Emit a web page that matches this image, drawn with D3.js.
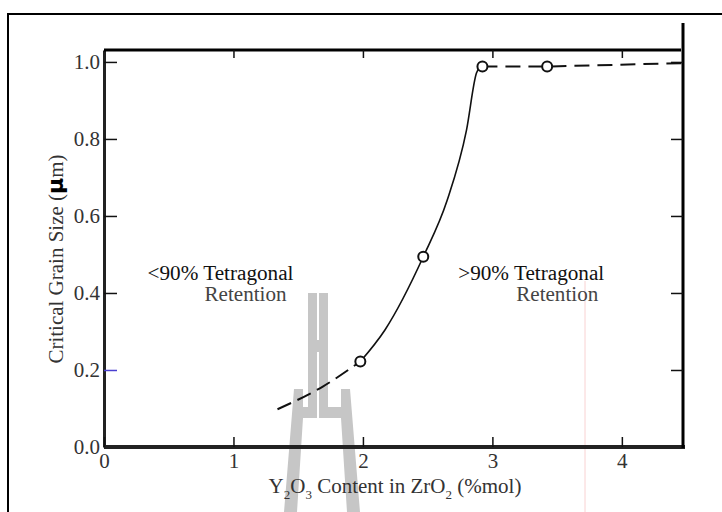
<!DOCTYPE html>
<html>
<head>
<meta charset="utf-8">
<script src="https://cdn.jsdelivr.net/npm/d3@7"></script>
<style>
	body { margin: 0; background: #fff; }
	svg { display: block; }
	text { font-family: "Liberation Serif", "Times New Roman", serif; }
</style>
</head>
<body>
<svg id="chart" width="722" height="512"></svg>
<script>
// values
const xTicks = [0, 1, 2, 3, 4];
const yTicks = [0.0, 0.2, 0.4, 0.6, 0.8, 1.0];
const measured = [[1.98, 0.222], [2.466, 0.494], [2.923, 0.988], [3.423, 0.988]];
const solidCurve = [[1.98, 0.222], [2.17, 0.304], [2.466, 0.494], [2.65, 0.64],
	[2.80, 0.823], [2.877, 0.971], [2.905, 0.988]];
const dashedLow = [[1.34, 0.098], [1.69, 0.157], [1.98, 0.222]];
const dashedHigh = [[2.923, 0.988], [3.423, 0.988], [4.48, 0.997]];
const regionLabels = [
	{x: 0.9, y: 0.434, line1: "<90% Tetragonal", line2: "Retention", dx2: 25},
	{x: 3.3, y: 0.434, line1: ">90% Tetragonal", line2: "Retention", dx2: 26}
];

const svg = d3.select("#chart"),
  W = 722, H = 512;

const x = d3.scaleLinear().domain([0, 4.48]).range([104, 684]);
const y = d3.scaleLinear().domain([0, 1.031]).range([447, 50]);

// outer frame
svg.append("path")
  .attr("d", "M8,512 V14 H722")
  .attr("fill", "none").attr("stroke", "#000").attr("stroke-width", 2);

// watermark (logo behind the plot)
const wm = svg.append("g").attr("fill", "#c6c6c6");
wm.append("path").attr("d", "M308,293 H317 V418 H308 Z M319,293 H328 V418 H319 Z M317,340 H319 V352 H317 Z");
wm.append("path").attr("d", "M294,389 H303 V407 H308 V418 H303 L297,512 H284 Z");
wm.append("path").attr("d", "M341,389 H350 L360,512 H347 L341,418 H328 V407 H341 Z");

// faint scan line
svg.append("line")
  .attr("x1", 585).attr("x2", 585).attr("y1", 281).attr("y2", 512)
  .attr("stroke", "#f9d2d2").attr("stroke-width", 1);

// axes
const axLeft = svg.append("g")
  .attr("transform", "translate(" + x(0) + ",0)")
  .call(d3.axisLeft(y).tickValues(yTicks).tickFormat(d3.format(".1f"))
	.tickSizeInner(-13).tickSizeOuter(0).tickPadding(4));
const axBottom = svg.append("g")
  .attr("transform", "translate(0," + y(0) + ")")
  .call(d3.axisBottom(x).tickValues(xTicks).tickFormat(d3.format("d"))
	.tickSizeInner(-10).tickSizeOuter(0).tickPadding(6));
const axTop = svg.append("g")
  .attr("transform", "translate(0," + y(1.031) + ")")
  .call(d3.axisTop(x).tickValues(xTicks.slice(1)).tickFormat("")
	.tickSizeInner(-8).tickSizeOuter(0));
const axRight = svg.append("g")
  .attr("transform", "translate(683,0)")
  .call(d3.axisRight(y).tickValues(yTicks.slice(1)).tickFormat("")
	.tickSizeInner(-12).tickSizeOuter(0));

[axLeft, axBottom, axTop, axRight].forEach(function(g) {
	g.selectAll("text")
	  .attr("font-family", "Liberation Serif, Times New Roman, serif")
	  .attr("font-size", 21)
	  .attr("fill", "#333");
	g.selectAll(".tick line").attr("stroke", "#111").attr("stroke-width", 1.5);
});
axLeft.select(".domain").attr("stroke", "#222").attr("stroke-width", 3);
axBottom.select(".domain").attr("stroke", "#222").attr("stroke-width", 4)
  .attr("d", "M104,0 H685");
axTop.select(".domain").attr("stroke", "#000").attr("stroke-width", 3)
  .attr("d", "M104,0 H681");
axRight.select(".domain").attr("stroke", "#000").attr("stroke-width", 3)
  .attr("d", "M0,23 V448");
axLeft.selectAll(".tick").filter(function(d) { return d === 0.2; })
  .select("line").attr("stroke", "#4a3fd0");
axLeft.selectAll(".tick").filter(function(d) { return d === 0; })
  .select("line").remove();

// curves
const line = d3.line()
  .x(function(d) { return x(d[0]); })
  .y(function(d) { return y(d[1]); });

svg.append("path")
  .datum(solidCurve)
  .attr("d", line.curve(d3.curveMonotoneX))
  .attr("fill", "none").attr("stroke", "#111").attr("stroke-width", 1.6);
svg.append("path")
  .datum(dashedLow)
  .attr("d", line.curve(d3.curveMonotoneX))
  .attr("fill", "none").attr("stroke", "#111").attr("stroke-width", 2)
  .attr("stroke-dasharray", "15,7");
svg.append("path")
  .datum(dashedHigh)
  .attr("d", line.curve(d3.curveLinear))
  .attr("fill", "none").attr("stroke", "#111").attr("stroke-width", 2)
  .attr("stroke-dasharray", "15,8");

svg.selectAll("circle.pt")
  .data(measured)
  .join("circle")
  .attr("class", "pt")
  .attr("cx", function(d) { return x(d[0]); })
  .attr("cy", function(d) { return y(d[1]); })
  .attr("r", 5)
  .attr("fill", "#fff").attr("stroke", "#111").attr("stroke-width", 2);

// region notes
regionLabels.forEach(function(r) {
	svg.append("text")
	  .attr("font-size", 20)
	  .attr("text-anchor", "middle")
	  .attr("x", x(r.x)).attr("y", y(r.y))
	  .attr("textLength", 146).attr("lengthAdjust", "spacingAndGlyphs")
	  .attr("fill", "#111")
	  .text(r.line1);
	svg.append("text")
	  .attr("font-size", 20)
	  .attr("text-anchor", "middle")
	  .attr("x", x(r.x) + r.dx2).attr("y", y(r.y) + 21)
	  .attr("textLength", 82).attr("lengthAdjust", "spacingAndGlyphs")
	  .attr("fill", "#444")
	  .text(r.line2);
});

// axis titles
const yl = svg.append("text")
  .attr("transform", "translate(63,259) rotate(-90)")
  .attr("text-anchor", "middle")
  .attr("font-size", 21)
  .attr("fill", "#333");
yl.append("tspan").text("Critical Grain Size (");
yl.append("tspan").attr("font-family", "DejaVu Sans").attr("font-weight", "bold")
  .attr("font-size", 22).attr("fill", "#000").text("μ");
yl.append("tspan").text("m)");

const xl = svg.append("text")
  .attr("x", 395).attr("y", 493)
  .attr("text-anchor", "middle")
  .attr("font-size", 21)
  .attr("fill", "#333");
xl.append("tspan").text("Y");
xl.append("tspan").attr("font-size", 13).attr("dy", 6).text("2");
xl.append("tspan").attr("dy", -6).text("O");
xl.append("tspan").attr("font-size", 13).attr("dy", 6).text("3");
xl.append("tspan").attr("dy", -6).text(" Content in ZrO");
xl.append("tspan").attr("font-size", 13).attr("dy", 6).text("2");
xl.append("tspan").attr("dy", -6).text(" (%mol)");
</script>
</body>
</html>
